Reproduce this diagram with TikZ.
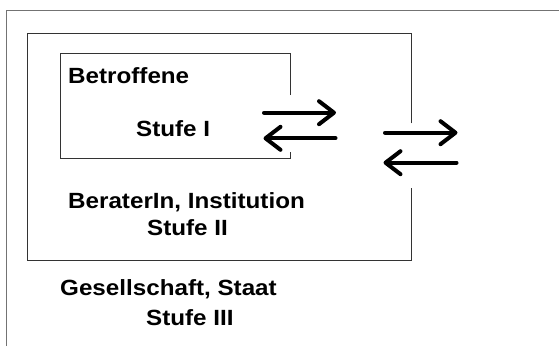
\documentclass[tikz,border=0pt]{standalone}
\usepackage{fontspec}
\setmainfont{Liberation Sans}[FakeStretch=1.1]
\usepackage{tikz}
\usetikzlibrary{arrows.meta}
\usetikzlibrary{calc}
\tikzstyle{label} = [anchor=base west, inner sep=0pt, font=\fontsize{22}{26}\selectfont\bfseries]
\tikzstyle{frame} = [line width=1pt, draw=black!80]
\tikzstyle{flow} = [line width=4pt, line cap=round, -{Straight Barb[length=15pt, width=23pt, round]}]

\begin{document}
\begin{tikzpicture}[x = 1pt, y = -1pt]
	\useasboundingbox (0, 0) rectangle (559, 346) ;
	
	\node[label] (betroffene) at (68, 83) {Betroffene} ;
	\node[label] (stufeI) at (136, 136.5) {Stufe I} ;
	\node[label] (berater) at (68, 208) {BeraterIn, Institution} ;
	\node[label] (stufeII) at (147, 235) {Stufe II} ;
	\node[label] (gesellschaft) at (60, 295) {Gesellschaft, Staat} ;
	\node[label] (stufeIII) at (146, 325) {Stufe III} ;
	
	% outer frame, only top and left visible
	\draw[line width=1pt, draw=black!55] (6.5, 346) -- (6.5, 10.7) -- (559, 10.7) ;
	
	% boxes, open on the right where the arrows pass
	\draw[frame] (290.6, 95) -- (290.6, 53.3) -- (60.3, 53.3) -- (60.3, 158.3) -- (290.6, 158.3) -- (290.6, 151.5) ;
	\draw[frame] (411.8, 123.3) -- (411.8, 33.3) -- (27.5, 33.3) -- (27.5, 260.7) -- (411.8, 260.7) -- (411.8, 187.7) ;
	
	\coordinate (a1) at (264, 112.7) ;
	\coordinate (b1) at (336, 112.7) ;
	\coordinate (a2) at (263.5, 138.3) ;
	\coordinate (b2) at (335.5, 138.3) ;
	\coordinate (a3) at (385, 132.7) ;
	\coordinate (b3) at (457.5, 132.7) ;
	\coordinate (a4) at (383.5, 162.7) ;
	\coordinate (b4) at (456.5, 162.7) ;
	
	\draw[flow] (a1) -- (b1) ;
	\draw[flow] (b2) -- (a2) ;
	\draw[flow] (a3) -- (b3) ;
	\draw[flow] (b4) -- (a4) ;
	
\end{tikzpicture}
\end{document}
